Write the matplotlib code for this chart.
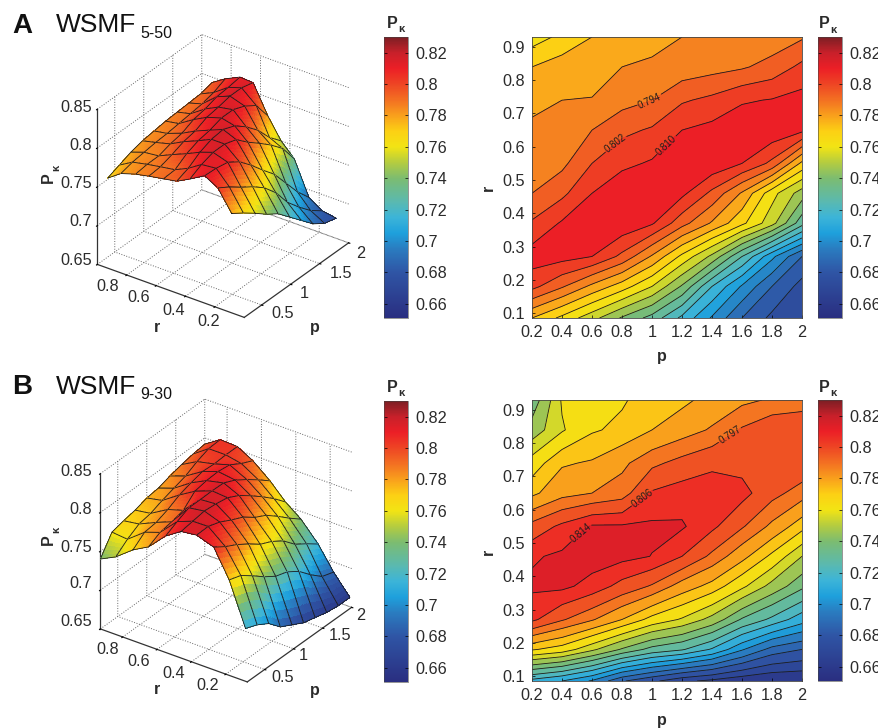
import numpy as np
import matplotlib
matplotlib.use('Agg')
import matplotlib.pyplot as plt
from matplotlib.colors import LinearSegmentedColormap, Normalize
from matplotlib.cm import ScalarMappable

plt.rcParams['font.family'] = ['Liberation Sans', 'DejaVu Sans']

# valores (filas: r, columnas: p)
p_vals = [0.2, 0.4, 0.6, 0.8, 1.0, 1.2, 1.4, 1.6, 1.8, 2.0]
r_vals = [0.085, 0.18, 0.27, 0.37, 0.46, 0.55, 0.65, 0.74, 0.84, 0.93]

pk_a = [
    [.778, .768, .757, .745, .735, .720, .705, .690, .680, .676],
    [.8045, .795, .784, .774, .762, .745, .722, .705, .690, .679],
    [.814, .813, .810, .800, .785, .768, .752, .730, .708, .690],
    [.803, .811, .816, .816, .811, .797, .785, .772, .757, .733],
    [.794, .800, .810, .816, .818, .812, .800, .785, .765, .750],
    [.791, .792, .802, .808, .811, .816, .816, .810, .800, .776],
    [.7875, .789, .794, .800, .803, .810, .8125, .816, .816, .812],
    [.784, .786, .7862, .791, .794, .801, .804, .809, .8105, .813],
    [.778, .782, .784, .786, .787, .789, .791, .793, .797, .804],
    [.766, .772, .778, .782, .784, .786, .787, .788, .789, .793],
]
pk_b = [
    [.718, .712, .703, .688, .680, .672, .668, .664, .662, .662],
    [.773, .768, .757, .745, .735, .730, .720, .705, .692, .687],
    [.808, .798, .790, .780, .769, .762, .752, .737, .727, .716],
    [.8155, .816, .811, .803, .796, .785, .777, .765, .752, .740],
    [.813, .8155, .818, .8165, .8138, .806, .795, .783, .770, .755],
    [.800, .808, .815, .815, .8155, .815, .808, .798, .787, .775],
    [.778, .786, .789, .793, .807, .810, .811, .809, .800, .793],
    [.767, .779, .781, .787, .795, .800, .804, .803, .804, .804],
    [.750, .762, .771, .774, .780, .785, .790, .798, .804, .805],
    [.740, .764, .768, .771, .776, .778, .783, .787, .790, .792],
]

levels_a = [.658, .666, .674, .682, .690, .698, .706, .714, .722, .730, .738, .746,
            .754, .762, .770, .778, .786, .794, .802, .810, .830]
levels_b = [.653, .661, .670, .678, .687, .695, .704, .712, .721, .729, .738, .746,
            .755, .763, .772, .780, .789, .797, .806, .814, .830]
lab_a = {.794: (0.987, 0.736), .802: (0.765, 0.605), .810: (1.13, 0.589)}
lab_b = {.797: (1.54, 0.809), .806: (0.954, 0.623), .814: (0.566, 0.512)}

cbar_ticks = [.66, .68, .70, .72, .74, .76, .78, .80, .82]
cbar_labels = ['0.66', '0.68', '0.7', '0.72', '0.74', '0.76', '0.78', '0.8', '0.82']
p_labels = ['0.2', '0.4', '0.6', '0.8', '1', '1.2', '1.4', '1.6', '1.8', '2']
r_ticks = [.1, .2, .3, .4, .5, .6, .7, .8, .9]
z_ticks = [.85, .8, .75, .7, .65]
z_labels = ['0.85', '0.8', '0.75', '0.7', '0.65']
r3d_ticks = [.8, .6, .4, .2]
r3d_labels = ['0.8', '0.6', '0.4', '0.2']
p3d_ticks = [.5, 1, 1.5, 2]
p3d_labels = ['0.5', '1', '1.5', '2']

# donde caen los textos de los ejes 3D, en pixeles
z_y_a = [108, 146, 184, 222, 260]
z_y_b = [471, 509, 547, 584, 622]
r_xy_a = [(108, 287), (139, 298), (174, 310), (209, 322)]
r_xy_b = [(108, 650), (139, 661), (174, 673), (208, 685)]
p_xy_a = [(283, 313), (304, 294), (341, 273), (361, 253)]
p_xy_b = [(283, 677), (303, 656), (340, 636), (361, 615)]

# colormap del colorbar
VMIN, VMAX = 0.651, 0.830
anchors = [(.651, '#2a2e80'), (.680, '#2f55a5'), (.695, '#2a7cc0'), (.705, '#1ea0dc'),
           (.715, '#3cb4d8'), (.725, '#5ab9b0'), (.740, '#7cbc70'), (.750, '#b4cc40'),
           (.760, '#f2e414'), (.770, '#fcd014'), (.780, '#f9a01c'), (.790, '#f37022'),
           (.800, '#ee4524'), (.810, '#ec1f26'), (.820, '#c8202a'), (.830, '#7c1f24')]
cmap = LinearSegmentedColormap.from_list(
    'pk', [((v - VMIN) / (VMAX - VMIN), c) for v, c in anchors], N=512)
norm = Normalize(VMIN, VMAX)

W_PX, H_PX = 879, 728
TXT = '#2b2b2b'
FS = 11.7
fig = plt.figure(figsize=(W_PX / 100, H_PX / 100), dpi=100)


def txt(x, y, s, **kw):
    kw.setdefault('ha', 'center')
    kw.setdefault('va', 'center')
    kw.setdefault('color', TXT)
    fig.text(x / W_PX, 1 - y / H_PX, s, **kw)


def px_axes(x0, y0, x1, y1, **kw):
    return fig.add_axes([x0 / W_PX, 1 - y1 / H_PX, (x1 - x0) / W_PX, (y1 - y0) / H_PX], **kw)


def pk_label(x, y, rotated=False):
    if rotated:
        txt(x, y, 'P', fontsize=11.5, fontweight='bold', rotation=90)
        txt(x + 8, y - 10, 'κ', fontsize=8, fontweight='bold', rotation=90)
    else:
        txt(x, y, 'P', fontsize=11.5, fontweight='bold')
        txt(x + 9, y + 6, 'κ', fontsize=8, fontweight='bold')


def surface(cx, cy, pk, rlim, z_y, r_xy, p_xy):
    size = 303
    x0 = cx - 0.5135 * size
    y1 = cy + 0.5135 * size
    ax = px_axes(x0, y1 - size, x0 + size, y1, projection='3d', proj_type='ortho',
                 computed_zorder=False)
    ax.patch.set_alpha(0)
    ax.view_init(elev=30.5, azim=-54.6)
    ax.set_box_aspect((1, 1, 1))
    z = np.array(pk)
    sub = np.linspace(0, 1, 7)
    a, b = np.meshgrid(sub, sub)
    k = 0
    # de atras hacia adelante para que las celdas se tapen bien
    for i in range(len(r_vals) - 2, -1, -1):
        for j in range(len(p_vals) - 2, -1, -1):
            x = r_vals[i] + a * (r_vals[i + 1] - r_vals[i])
            y = p_vals[j] + b * (p_vals[j + 1] - p_vals[j])
            zc = ((1 - a) * (1 - b) * z[i, j] + a * (1 - b) * z[i + 1, j]
                  + (1 - a) * b * z[i, j + 1] + a * b * z[i + 1, j + 1])
            ax.plot_surface(x, y, zc, facecolors=cmap(norm(zc)), rstride=1, cstride=1,
                            shade=False, linewidth=0, antialiased=False, zorder=k)
            ex = [r_vals[i], r_vals[i + 1], r_vals[i + 1], r_vals[i], r_vals[i]]
            ey = [p_vals[j], p_vals[j], p_vals[j + 1], p_vals[j + 1], p_vals[j]]
            ez = [z[i, j], z[i + 1, j], z[i + 1, j + 1], z[i, j + 1], z[i, j]]
            ax.plot(ex, ey, ez, color='#1c1c1c', lw=0.6, zorder=k + 0.5)
            k += 1
    ax.set_xlim(rlim[0], rlim[1], view_margin=0)
    ax.set_ylim(0.2, 2, view_margin=0)
    ax.set_zlim(0.65, 0.85, view_margin=0)
    ax.set_xticks(r3d_ticks)
    ax.set_yticks(p3d_ticks)
    ax.set_zticks(z_ticks)
    ax.set_xticklabels([])
    ax.set_yticklabels([])
    ax.set_zticklabels([])
    ax.zaxis.set_ticks_position('lower')
    for axis in (ax.xaxis, ax.yaxis, ax.zaxis):
        axis.set_pane_color((1, 1, 1, 0))
        axis.pane.set_edgecolor((1, 1, 1, 0))
        axis.line.set_color('#333333')
        axis.line.set_linewidth(0.9)
        axis._axinfo['grid'].update(color='#666666', linestyle=':', linewidth=0.7)
        axis._axinfo['tick'].update(inward_factor=0.1, outward_factor=0.0)
    for s, y in zip(z_labels, z_y):
        txt(92, y, s, fontsize=FS, ha='right')
    for s, (x, y) in zip(r3d_labels, r_xy):
        txt(x, y, s, fontsize=FS)
    for s, (x, y) in zip(p3d_labels, p_xy):
        txt(x, y, s, fontsize=FS)
    return ax


def contour_panel(pk, levels, labels, top):
    ax = px_axes(532, top, 802, top + 281)
    colors = [cmap(norm(v)) for v in levels[:-1]]
    ax.contourf(p_vals, r_vals, pk, levels=levels, colors=colors)
    plain = [v for v in levels[:-1] if v not in labels]
    ax.contour(p_vals, r_vals, pk, levels=plain, colors='#1c1c1c', linewidths=0.6)
    # las lineas con etiqueta van aparte
    for lev, pos in labels.items():
        cs = ax.contour(p_vals, r_vals, pk, levels=[lev], colors='#1c1c1c', linewidths=0.6)
        ax.clabel(cs, inline=True, inline_spacing=1, fontsize=7, fmt='%.3f', manual=[pos])
    ax.set_xlim(0.2, 2)
    ax.set_ylim(0.085, 0.93)
    ax.set_xticks(p_vals)
    ax.set_xticklabels(p_labels)
    ax.set_yticks(r_ticks)
    ax.set_yticklabels(['%.1f' % v for v in r_ticks])
    ax.tick_params(labelsize=FS, labelcolor=TXT, direction='in', length=2, width=0.5, pad=5)
    for s in ax.spines.values():
        s.set_linewidth(0.6)
        s.set_color('#444444')
    return ax


def colorbar(x0, top):
    cax = px_axes(x0, top, x0 + 24, top + 281)
    cb = fig.colorbar(ScalarMappable(norm=norm, cmap=cmap), cax=cax)
    cb.set_ticks(cbar_ticks)
    cb.set_ticklabels(cbar_labels)
    cb.ax.tick_params(labelsize=FS, labelcolor=TXT, direction='in', length=2.5, width=0.5,
                      pad=5, left=True, right=True)
    cb.outline.set_linewidth(0.4)
    cb.outline.set_edgecolor('#444444')


surface(223, 176, pk_a, (1, 0), z_y_a, r_xy_a, p_xy_a)
surface(226, 540.5, pk_b, (0.93, 0.075), z_y_b, r_xy_b, p_xy_b)
contour_panel(pk_a, levels_a, lab_a, 37)
contour_panel(pk_b, levels_b, lab_b, 400)
for x, top in ((384, 37), (818, 37), (384, 401), (818, 400)):
    colorbar(x, top)

# titulos y etiquetas
txt(22, 26, 'A', fontsize=20, fontweight='bold', color='#111111')
txt(22, 387, 'B', fontsize=20, fontweight='bold', color='#111111')
txt(56, 32, 'WSMF', fontsize=19, ha='left', va='baseline', color='#111111')
txt(140, 38, '5-50', fontsize=11.5, ha='left', va='baseline', color='#111111')
txt(56, 394, 'WSMF', fontsize=19, ha='left', va='baseline', color='#111111')
txt(140, 399, '9-30', fontsize=11.5, ha='left', va='baseline', color='#111111')

pk_label(392, 23)
pk_label(824, 24)
pk_label(392, 387)
pk_label(824, 387)
pk_label(48, 178, rotated=True)
pk_label(48, 540, rotated=True)

for x, y, s in ((157, 328, 'r'), (315, 328, 'p'), (157, 690, 'r'), (315, 691, 'p'),
                (662, 357, 'p'), (662, 720, 'p')):
    txt(x, y, s, fontsize=11.5, fontweight='bold')
txt(488, 188, 'r', fontsize=11.5, fontweight='bold', rotation=90)
txt(488, 552, 'r', fontsize=11.5, fontweight='bold', rotation=90)

fig.savefig('out.png', dpi=100)
